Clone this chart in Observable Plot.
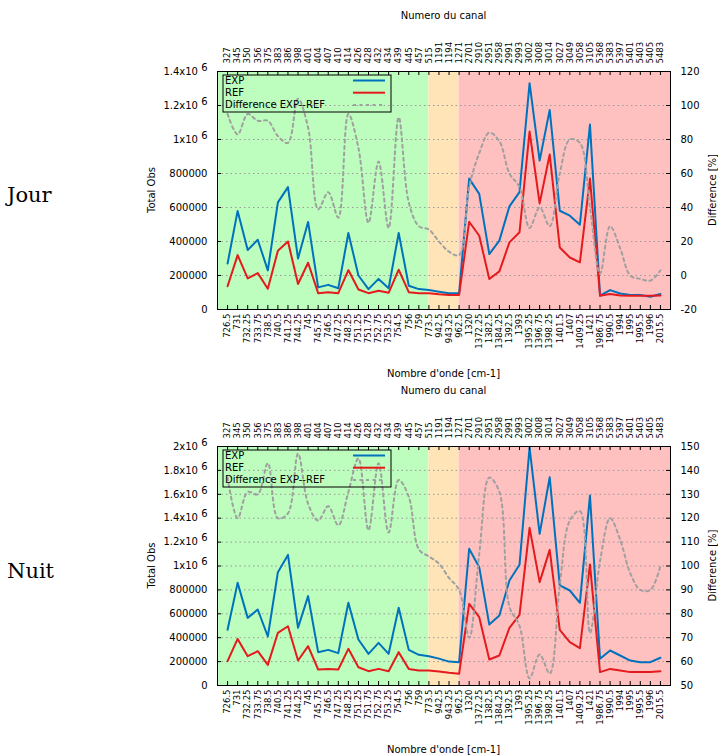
<!DOCTYPE html>
<html><head><meta charset="utf-8">
<script src="https://cdn.jsdelivr.net/npm/d3@7"></script>
<script src="https://cdn.jsdelivr.net/npm/@observablehq/plot@0.6"></script>
<style>
body{margin:0;background:#fff;}
#chart{width:718px;height:756px;position:relative;}
svg{display:block;overflow:visible;}
</style></head><body><div id="chart"></div>
<script>
// ---- data ----
const wavenumbers = ["726.5","731","732.25","733.75","738.5","740.5","741.25","744.25","745","745.75","746.5","747.25","748.25","751.25","751.75","752.75","753.25","754.5","756","759","773.5","942.5","943.25","962.5","1320","1372.25","1382.5","1384.25","1392.5","1393","1395.25","1396.75","1398.25","1401.5","1407","1409.25","1421","1986.75","1990.5","1994","1995","1995.5","1996","2015.5"];
const channels = ["327","345","350","356","375","383","386","398","401","404","407","410","414","426","428","432","434","439","445","457","515","1191","1194","1271","2701","2910","2951","2958","2991","2993","3002","3008","3014","3027","3049","3058","3105","5368","5383","5397","5401","5403","5405","5483"];

const jourExp = [270000,580000,350000,410000,230000,630000,720000,300000,515000,130000,145000,125000,450000,200000,120000,180000,125000,450000,140000,120000,115000,105000,95000,95000,770000,680000,326000,405000,607000,690000,1331000,876000,1174000,581000,552000,499000,1088000,81000,114000,94000,85000,85000,75000,91000];
const jourRef = [137000,320000,183000,214000,122000,346000,400000,150000,275000,96000,102000,96000,232000,118000,96000,110000,98000,234000,102000,96000,96000,90000,86000,86000,516000,434000,179000,224000,395000,454000,1047000,624000,912000,365000,306000,277000,770000,81000,91000,83000,81000,81000,81000,82000];
const jourDiff = [95,83,95,91,91,82,78,104,87,39,49,34,95,75,31,67,28,93,43,29,27,20,14,12,52,72,84,79,60,52,28,40,29,60,80,78,40,1,29,16,0,-2,-3,3];

const nuitExp = [466000,859000,566000,636000,410000,948000,1093000,483000,748000,279000,298000,271000,692000,385000,265000,357000,265000,650000,298000,257000,245000,225000,200000,195000,1144000,990000,510000,586000,879000,1010000,1990000,1269000,1743000,837000,795000,692000,1590000,223000,293000,251000,209000,195000,195000,232000];
const nuitRef = [204000,390000,245000,287000,173000,441000,496000,209000,329000,134000,139000,134000,307000,153000,120000,139000,120000,279000,139000,125000,125000,117000,106000,98000,683000,572000,218000,251000,483000,591000,1319000,865000,1135000,466000,363000,312000,1013000,112000,139000,125000,112000,112000,112000,120000];
const nuitDiff = [137,120,131,130,143,120,122,147,126,119,125,117,131,145,115,143,114,136,129,107,104,101,95,90,70,105,137,131,83,75,53,63,55,92,119,123,72,102,120,111,97,90,90,100];

const bandEdges = ["773.5","962.5"];   // green | orange | red limits (wavenumber)
const bandColors = ["#bdfdbd","#ffe4b8","#ffc0c0"];
const seriesNames = ["EXP","REF","Difference EXP--REF"];
const seriesColors = ["#0072bd","#e41a1c","#a0a0a0"];

const FONT = "DejaVu Sans";

function panel(o){
  const W=718, H=378, ML=217, MR=48;
  const mt=o.marginTop, mb=o.marginBottom;
  const plotH=H-mt-mb, plotW=W-ML-MR;
  const n=o.exp.length;
  const idx=d3.range(n);
  const rows=idx.map(i=>({i,exp:o.exp[i],ref:o.ref[i],diff:o.diff[i]}));
  const toLeft=v=>(v-o.rMin)/(o.rMax-o.rMin)*o.yMax;
  const toRight=t=>Math.round(o.rMin+t/o.yMax*(o.rMax-o.rMin));
  const yTicks=d3.range(0,o.yMax+1,200000);
  const grid=yTicks.filter(t=>t>0&&t<o.yMax);
  const e1=wavenumbers.indexOf(bandEdges[0]), e2=wavenumbers.indexOf(bandEdges[1]);
  const bands=[{x1:-1,x2:e1,c:bandColors[0]},{x1:e1,x2:e2,c:bandColors[1]},{x1:e2,x2:n,c:bandColors[2]}];
  const fmtLeft=t=>t>=1e6?`${+(t/1e6).toFixed(1)}x10 6`:String(t);

  const svg=Plot.plot({
    width:W,height:H,marginLeft:ML,marginRight:MR,marginTop:mt,marginBottom:mb,
    x:{domain:[-1,n]}, y:{domain:[0,o.yMax]},
    style:{fontFamily:FONT,fontSize:"10px",background:"transparent",color:"black",overflow:"visible"},
    marks:[
      ...bands.map(b=>Plot.rect([b],{x1:"x1",x2:"x2",y1:0,y2:o.yMax,fill:b.c})),
      Plot.ruleY(grid,{stroke:"#9a9a9a",strokeWidth:1,strokeDasharray:"1.5,3"}),
      Plot.line(rows,{x:"i",y:"exp",stroke:seriesColors[0],strokeWidth:2}),
      Plot.line(rows,{x:"i",y:"ref",stroke:seriesColors[1],strokeWidth:2}),
      Plot.line(rows,{x:"i",y:d=>toLeft(d.diff),stroke:seriesColors[2],strokeWidth:2,strokeDasharray:"3,3.5",curve:"catmull-rom",clip:true}),
      // inside ticks
      Plot.ruleX(idx,{x:d=>d,y1:o.yMax,y2:0,insetTop:plotH-4,stroke:"black"}),
      Plot.ruleX(idx,{x:d=>d,y1:o.yMax,y2:0,insetBottom:plotH-4,stroke:"black"}),
      Plot.ruleY(yTicks,{y:d=>d,x1:-1,x2:n,insetRight:plotW-4,stroke:"black"}),
      Plot.ruleY(yTicks,{y:d=>d,x1:-1,x2:n,insetLeft:plotW-4,stroke:"black"}),
      Plot.frame({stroke:"black",strokeWidth:1}),
      Plot.axisY(yTicks,{anchor:"left",tickSize:0,tickPadding:10,tickFormat:fmtLeft,label:null,fontSize:10}),
      Plot.axisY(yTicks,{anchor:"right",tickSize:0,tickPadding:10,tickFormat:toRight,label:null,fontSize:10}),
      Plot.axisX(idx,{anchor:"bottom",tickSize:0,tickPadding:4,tickRotate:-90,tickFormat:i=>wavenumbers[i],label:null,fontSize:8.5}),
      Plot.axisX(idx,{anchor:"top",tickSize:0,tickPadding:8,tickRotate:-90,tickFormat:i=>channels[i],label:null,fontSize:8.5})
    ]
  });
  const s=d3.select(svg);
  // superscripts for x10 6
  s.selectAll("text").each(function(){
    const t=this.textContent;
    const m=/^(.*x10) (\d)$/.exec(t);
    if(m){
      this.textContent="";
      d3.select(this).append("tspan").text(m[1]);
      d3.select(this).append("tspan").attr("dy","-4").text(" "+m[2]);
    }
  });
  const g=s.append("g").attr("font-family",FONT).attr("font-size",10).attr("fill","black").attr("text-anchor","start");
  // legend
  g.append("rect").attr("x",ML+6).attr("y",mt+4).attr("width",168).attr("height",37)
    .attr("fill","none").attr("stroke","black").attr("stroke-width",1);
  seriesNames.forEach((name,k)=>{
    const yy=mt+9.5+k*12.2;
    g.append("text").attr("x",ML+8).attr("y",yy).attr("dy","0.35em").text(name);
    g.append("line").attr("x1",ML+136).attr("x2",ML+168).attr("y1",yy).attr("y2",yy)
      .attr("stroke",seriesColors[k]).attr("stroke-width",2)
      .attr("stroke-dasharray",k===2?"3,3.5":null);
  });
  const cx=ML+plotW/2, cy=mt+plotH/2;
  g.append("text").attr("x",cx).attr("y",o.topTitleY).attr("text-anchor","middle").attr("dy","0.35em").text("Numero du canal");
  g.append("text").attr("x",cx).attr("y",H-mb+64).attr("text-anchor","middle").attr("dy","0.35em").text("Nombre d'onde [cm-1]");
  g.append("text").attr("transform",`translate(151,${cy}) rotate(-90)`).attr("text-anchor","middle").attr("dy","0.35em").text("Total Obs");
  g.append("text").attr("transform",`translate(712,${cy}) rotate(-90)`).attr("text-anchor","middle").attr("dy","0.35em").text("Difference [%]");
  g.append("text").attr("x",7).attr("y",cy+5).attr("dy","0.35em").attr("font-family","DejaVu Serif").attr("font-size",21).text(o.name);
  return svg;
}

const chart=document.getElementById("chart");
chart.appendChild(panel({name:"Jour",exp:jourExp,ref:jourRef,diff:jourDiff,yMax:1400000,rMin:-20,rMax:120,marginTop:71,marginBottom:69,topTitleY:15}));
chart.appendChild(panel({name:"Nuit",exp:nuitExp,ref:nuitRef,diff:nuitDiff,yMax:2000000,rMin:50,rMax:150,marginTop:68,marginBottom:71,topTitleY:12}));
</script></body></html>
